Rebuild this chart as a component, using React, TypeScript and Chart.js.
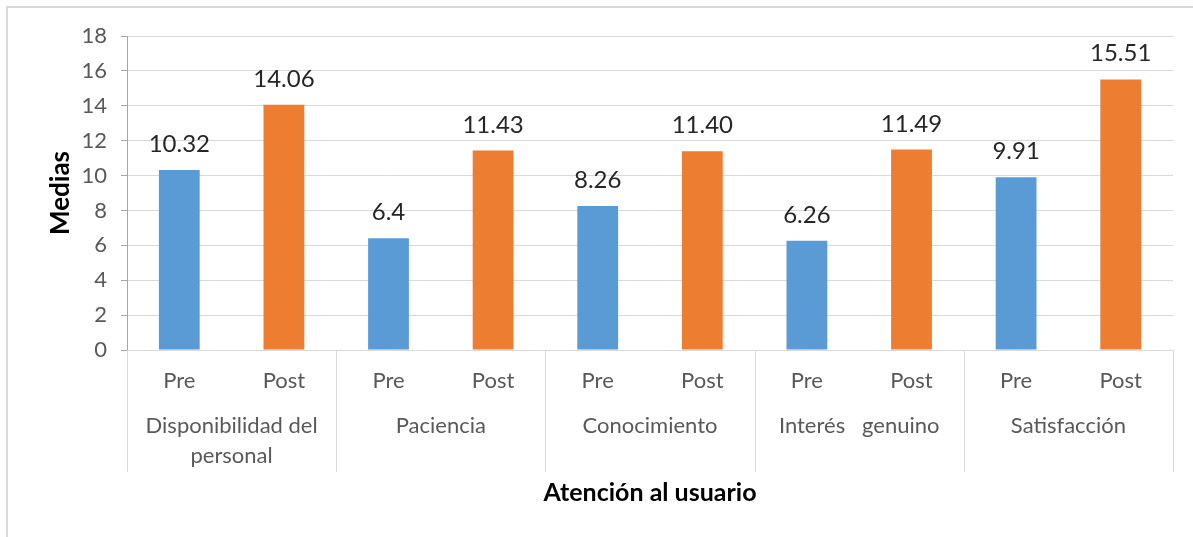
import React, { useEffect, useRef } from "react";
import { Chart, registerables } from "chart.js";

Chart.register(...registerables);

// Bar categories (one bar per phase within each attention dimension)
const phaseLabels = ["Pre", "Post", "Pre", "Post", "Pre", "Post", "Pre", "Post", "Pre", "Post"];
// Mean scores per bar
const meanValues = [10.32, 14.06, 6.4, 11.43, 8.26, 11.4, 6.26, 11.49, 9.91, 15.51];
// Printed value labels
const valueLabels = ["10.32", "14.06", "6.4", "11.43", "8.26", "11.40", "6.26", "11.49", "9.91", "15.51"];
// Group labels, one entry per pair of bars (already wrapped into lines)
const groupLines: string[][] = [
  ["Disponibilidad del", "personal"],
  ["Paciencia"],
  ["Conocimiento"],
  ["Interés   genuino"],
  ["Satisfacción"],
];
const yTicks = [0, 2, 4, 6, 8, 10, 12, 14, 16, 18];

const FONT = "Lato, 'Open Sans', sans-serif";
const PRE_COLOR = "#5B9BD5";
const POST_COLOR = "#ED7D31";

const decorations = {
  id: "decorations",
  afterDraw(chart: any) {
    const { ctx, chartArea } = chart;
    const x = chart.scales.x;
    const n = phaseLabels.length;
    const step = (chartArea.right - chartArea.left) / n;
    ctx.save();

    // value labels above bars
    ctx.fillStyle = "#262626";
    ctx.font = `24px ${FONT}`;
    ctx.textAlign = "center";
    ctx.textBaseline = "alphabetic";
    const meta = chart.getDatasetMeta(0);
    meta.data.forEach((bar: any, i: number) => {
      ctx.fillText(valueLabels[i], bar.x, bar.y - 18);
    });

    // group separators
    ctx.strokeStyle = "#d9d9d9";
    ctx.lineWidth = 1;
    for (let g = 0; g <= groupLines.length; g++) {
      const px = Math.round(chartArea.left + g * 2 * step) + 0.5;
      ctx.beginPath();
      ctx.moveTo(px, chartArea.bottom);
      ctx.lineTo(px, chartArea.bottom + 122);
      ctx.stroke();
    }

    // group labels
    ctx.fillStyle = "#595959";
    ctx.font = `22px ${FONT}`;
    ctx.textBaseline = "middle";
    groupLines.forEach((lines, g) => {
      const cx = (x.getPixelForValue(g * 2) + x.getPixelForValue(g * 2 + 1)) / 2;
      lines.forEach((line, li) => {
        ctx.fillText(line, cx, chartArea.bottom + 76 + li * 30);
      });
    });

    // x-axis title
    ctx.fillStyle = "#000000";
    ctx.font = `bold 25px ${FONT}`;
    ctx.fillText("Atención al usuario", (chartArea.left + chartArea.right) / 2, chartArea.bottom + 143);

    // y-axis title
    ctx.translate(61, (chartArea.top + chartArea.bottom) / 2);
    ctx.rotate(-Math.PI / 2);
    ctx.font = `bold 26px ${FONT}`;
    ctx.fillText("Medias", 0, 0);
    ctx.restore();
  },
};

export default function App() {
  const canvasRef = useRef<HTMLCanvasElement>(null);

  useEffect(() => {
    if (!canvasRef.current) return;
    const chart = new Chart(canvasRef.current, {
      type: "bar",
      data: {
        labels: phaseLabels,
        datasets: [
          {
            data: meanValues,
            backgroundColor: phaseLabels.map((p) => (p === "Pre" ? PRE_COLOR : POST_COLOR)),
            barPercentage: 0.39,
            categoryPercentage: 1,
          },
        ],
      },
      options: {
        animation: false,
        responsive: false,
        maintainAspectRatio: false,
        layout: { padding: { top: 36, right: 20, left: 0, bottom: 0 } },
        plugins: { legend: { display: false }, tooltip: { enabled: false } },
        scales: {
          x: {
            grid: { display: false, drawTicks: false },
            border: { display: true, color: "#d9d9d9" },
            ticks: {
              color: "#595959",
              font: { family: FONT, size: 22 },
              padding: 18,
              maxRotation: 0,
              autoSkip: false,
            },
            afterFit(scale: any) {
              scale.height = 187;
            },
          },
          y: {
            min: 0,
            max: 18,
            afterBuildTicks(scale: any) {
              scale.ticks = yTicks.map((v) => ({ value: v }));
            },
            grid: { color: "#d9d9d9", tickLength: 6, tickColor: "#a6a6a6" },
            border: { display: true, color: "#a6a6a6" },
            ticks: {
              color: "#595959",
              font: { family: FONT, size: 22 },
              padding: 14,
            },
            afterFit(scale: any) {
              scale.width = 127;
            },
          },
        },
      },
      plugins: [decorations],
    });
    return () => chart.destroy();
  }, []);

  return (
    <div
      style={{
        position: "fixed",
        left: 0,
        top: 0,
        width: 1193,
        height: 537,
        background: "#ffffff",
      }}
    >
      <div
        style={{
          position: "absolute",
          left: 6,
          top: 6,
          right: 0,
          bottom: 0,
          borderTop: "2px solid #d9d9d9",
          borderLeft: "2px solid #d9d9d9",
        }}
      />
      <canvas ref={canvasRef} width={1193} height={537} style={{ position: "absolute", left: 0, top: 0 }} />
    </div>
  );
}
